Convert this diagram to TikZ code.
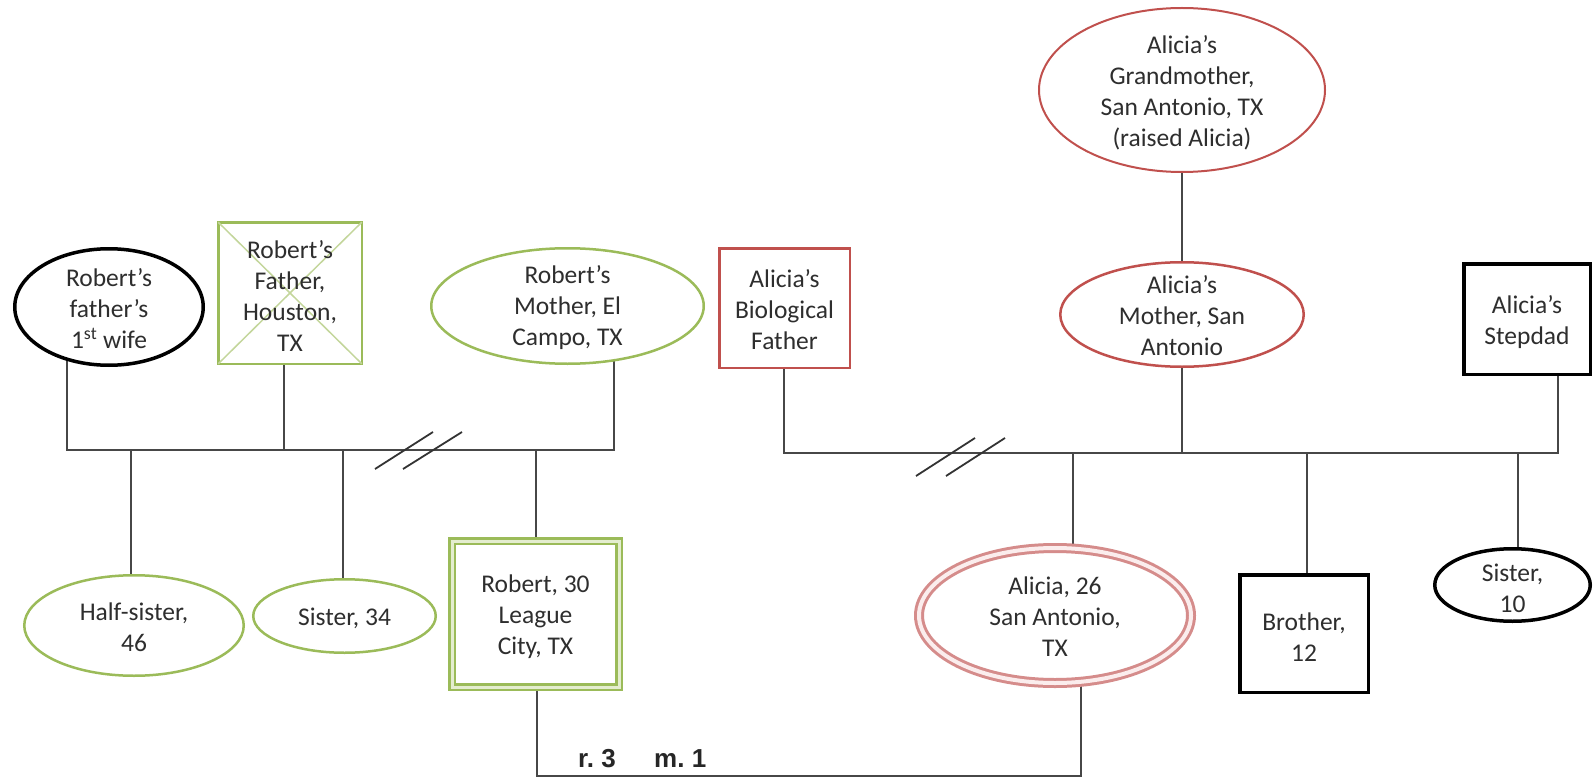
\documentclass[tikz,border=0pt]{standalone}
\usepackage{fontspec}
\setmainfont{Carlito}
\newfontfamily\notefont{Liberation Sans}
\usetikzlibrary{shapes.geometric,backgrounds}
\definecolor{kinGreen}{HTML}{9BBB59}
\definecolor{kinGreenPale}{HTML}{E4EDCF}
\definecolor{kinCross}{HTML}{C3D69B}
\definecolor{kinRed}{HTML}{C0504D}
\definecolor{kinRose}{HTML}{D58C8B}
\definecolor{kinRosePale}{HTML}{FBEDED}
\begin{document}
\begin{tikzpicture}[x=1pt,y=-1pt,
  txt/.style={font=\fontsize{25.5}{31}\selectfont, text=black!82, align=center, inner sep=0pt},
  shp/.style={inner sep=0pt, outer sep=0pt, fill=white},
  oval/.style={shp, ellipse},
  box/.style={shp, rectangle},
  greenline/.style={draw=kinGreen, line width=2.5pt},
  redline/.style={draw=kinRed, line width=2.5pt},
  blackline/.style={draw=black, line width=3.5pt},
  link/.style={draw=black!72, line width=1.6pt},
  cut/.style={draw=black!80, line width=1.8pt},
  note/.style={font=\notefont\bfseries\fontsize{26}{30}\selectfont, text=black!85, inner sep=0pt}
]
\useasboundingbox (0,0) rectangle (1595,778);

% ---- Robert's side, parents
\node[oval, blackline, minimum width=188.5pt, minimum height=116.5pt] (wife) at (109,307) {};
\node[box, greenline, minimum width=143.5pt, minimum height=141.5pt] (rfather) at (290,293) {};
\draw[draw=kinCross, line width=1.5pt]
  (rfather.north west) -- (rfather.south east)
  (rfather.north east) -- (rfather.south west);
\node[oval, greenline, minimum width=272.5pt, minimum height=115.5pt] (rmother) at (567.5,306) {};

% ---- Alicia's side, parents and grandmother
\node[box, redline, minimum width=130.5pt, minimum height=119.5pt] (bfather) at (784.5,308) {};
\node[oval, draw=kinRed, line width=2pt, minimum width=286pt, minimum height=164pt] (gmother) at (1182,90) {};
\node[oval, redline, minimum width=243.5pt, minimum height=104.5pt] (amother) at (1182,314.5) {};
\node[box, blackline, minimum width=126.5pt, minimum height=110.5pt] (stepdad) at (1527,319) {};

% ---- children
\node[oval, greenline, minimum width=219.5pt, minimum height=100.5pt] (halfsis) at (134,625.5) {};
\node[oval, greenline, minimum width=182.5pt, minimum height=73.5pt] (sis34) at (344.5,616) {};
\node[box, draw=kinGreen, line width=2.5pt, double=kinGreenPale, double distance=3pt,
      minimum width=167pt, minimum height=146pt] (robert) at (535.5,614) {};
\node[oval, draw=kinRose, line width=3pt, double=kinRosePale, double distance=4pt,
      minimum width=272pt, minimum height=135pt] (alicia) at (1055,615.5) {};
\node[box, blackline, minimum width=128.5pt, minimum height=117.5pt] (brother) at (1304,633.5) {};
\node[oval, blackline, minimum width=155.5pt, minimum height=72.5pt] (sis10) at (1512.5,585) {};

% ---- labels
\node[txt] (wife-t) at (109,309) {Robert’s\\father’s\\1\textsuperscript{st} wife};
\node[txt] (rfather-t) at (290,296) {Robert’s\\Father,\\Houston,\\TX};
\node[txt] (rmother-t) at (567.5,308) {Robert’s\\Mother, El\\Campo, TX};
\node[txt] (bfather-t) at (784.5,310) {Alicia’s\\Biological\\Father};
\node[txt] (gmother-t) at (1182,93) {Alicia’s\\Grandmother,\\San Antonio, TX\\(raised Alicia)};
\node[txt] (amother-t) at (1182,316) {Alicia’s\\Mother, San\\Antonio};
\node[txt] (stepdad-t) at (1527,322) {Alicia’s\\Stepdad};
\node[txt] (halfsis-t) at (134,627) {Half-sister,\\46};
\node[txt] (sis34-t) at (344.5,618) {Sister, 34};
\node[txt] (robert-t) at (535.5,617) {Robert, 30\\League\\City, TX};
\node[txt] (alicia-t) at (1055,617) {Alicia, 26\\San Antonio,\\TX};
\node[txt] (brother-t) at (1304,637) {Brother,\\12};
\node[txt] (sis10-t) at (1512.5,588) {Sister,\\10};

% ---- junction points on the family lines
\coordinate (Lw) at (67,450);   \coordinate (Lf) at (284,450);  \coordinate (Lm) at (614,450);
\coordinate (Lk1) at (131,450); \coordinate (Lk2) at (343,450); \coordinate (Lk3) at (536,450);
\coordinate (Rf) at (784,453);  \coordinate (Rm) at (1182,453); \coordinate (Rs) at (1558,453);
\coordinate (Rk1) at (1073,453); \coordinate (Rk2) at (1307,453); \coordinate (Rk3) at (1518,453);
\coordinate (Mr) at (537,776);  \coordinate (Ma) at (1081,776);

\begin{scope}[on background layer]
  % Robert's parents and siblings
  \draw[link] (wife.center -| Lw) -- (Lw) -- (Lm) -- (rmother.center -| Lm);
  \draw[link] (rfather.center -| Lf) -- (Lf);
  \draw[link] (Lk1) -- (halfsis.center -| Lk1);
  \draw[link] (Lk2) -- (sis34.center -| Lk2);
  \draw[link] (Lk3) -- (robert.center -| Lk3);
  % Alicia's parents and siblings
  \draw[link] (bfather.center -| Rf) -- (Rf) -- (Rs) -- (stepdad.center -| Rs);
  \draw[link] (gmother.center) -- (amother.center) -- (Rm);
  \draw[link] (Rk1) -- (alicia.center -| Rk1);
  \draw[link] (Rk2) -- (brother.center -| Rk2);
  \draw[link] (Rk3) -- (sis10.center -| Rk3);
  % Robert and Alicia
  \draw[link] (robert.center -| Mr) -- (Mr) -- (Ma) -- (alicia.center -| Ma);
\end{scope}

% ---- divorce marks
\draw[cut] (375,469) -- (433,432);
\draw[cut] (403,469) -- (462,432);
\draw[cut] (916,476) -- (975,438);
\draw[cut] (946,476) -- (1005,438);

% ---- relationship note
\node[note, anchor=base west] (rel) at (578,767) {r.\ 3};
\node[note, anchor=base west] (mar) at (654,767) {m.\ 1};
\end{tikzpicture}
\end{document}
